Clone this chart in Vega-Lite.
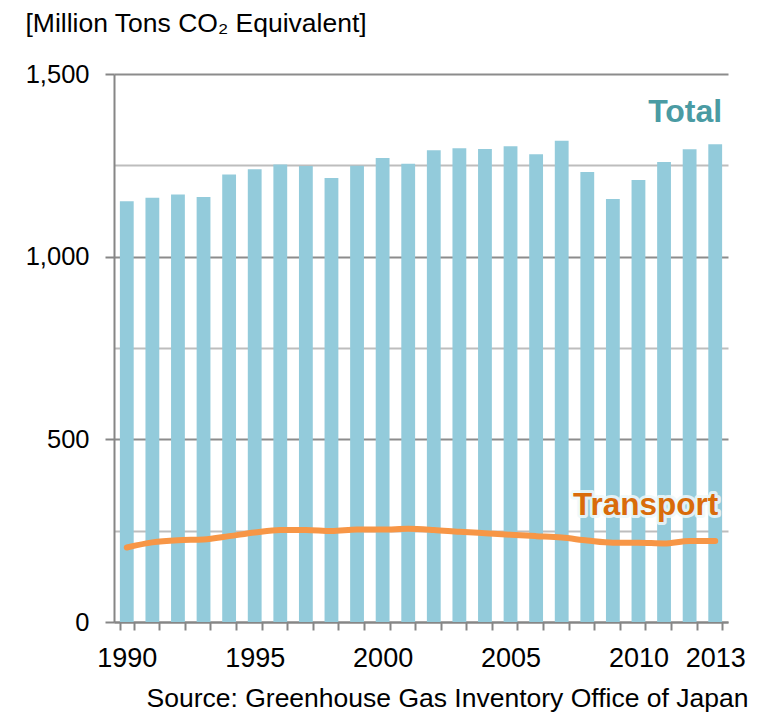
{
  "$schema": "https://vega.github.io/schema/vega-lite/v6.json",
  "autosize": "none",
  "width": 614,
  "height": 548,
  "padding": {"left": 114, "top": 74, "right": 39, "bottom": 91},
  "background": "white",
  "config": {
    "font": "Liberation Sans",
    "view": {"stroke": null}
  },
  "data": {
    "values": [
      {"year": 1990, "total": 1152, "transport": 204},
      {"year": 1991, "total": 1161, "transport": 218},
      {"year": 1992, "total": 1170, "transport": 224},
      {"year": 1993, "total": 1163, "transport": 226},
      {"year": 1994, "total": 1225, "transport": 235},
      {"year": 1995, "total": 1239, "transport": 245},
      {"year": 1996, "total": 1252, "transport": 252},
      {"year": 1997, "total": 1248, "transport": 252},
      {"year": 1998, "total": 1215, "transport": 249},
      {"year": 1999, "total": 1249, "transport": 253},
      {"year": 2000, "total": 1270, "transport": 253},
      {"year": 2001, "total": 1254, "transport": 255},
      {"year": 2002, "total": 1291, "transport": 252},
      {"year": 2003, "total": 1297, "transport": 247},
      {"year": 2004, "total": 1295, "transport": 243},
      {"year": 2005, "total": 1302, "transport": 239},
      {"year": 2006, "total": 1280, "transport": 235},
      {"year": 2007, "total": 1317, "transport": 231},
      {"year": 2008, "total": 1232, "transport": 223},
      {"year": 2009, "total": 1158, "transport": 217},
      {"year": 2010, "total": 1210, "transport": 217},
      {"year": 2011, "total": 1259, "transport": 215},
      {"year": 2012, "total": 1294, "transport": 222},
      {"year": 2013, "total": 1308, "transport": 222}
    ]
  },
  "encoding": {
    "x": {
      "field": "year",
      "type": "ordinal",
      "scale": {"paddingInner": 0.46, "paddingOuter": 0.23},
      "axis": {
        "title": "Source: Greenhouse Gas Inventory Office of Japan",
        "titleFont": "Liberation Sans",
        "titleFontSize": 26.5,
        "titleFontWeight": "normal",
        "titleColor": "#000000",
        "titleAlign": "right",
        "titleBaseline": "alphabetic",
        "titleX": 634,
        "titleY": 84,
        "labelAngle": 0,
        "labelFontSize": 27,
        "labelColor": "#000000",
        "labelPadding": 15,
        "labelExpr": "indexof([1990,1995,2000,2005,2010,2013], datum.value) >= 0 ? datum.label : ''",
        "tickBand": "extent",
        "tickSize": 8,
        "tickWidth": 2,
        "tickColor": "#868686",
        "domainColor": "#868686",
        "domainWidth": 2,
        "grid": false
      }
    }
  },
  "layer": [
    {
      "mark": {"type": "bar", "color": "#93CBDB"},
      "encoding": {
        "y": {
          "field": "total",
          "type": "quantitative",
          "scale": {"domain": [0, 1500], "nice": false},
          "axis": {
            "title": "[Million Tons CO₂ Equivalent]",
            "titleAngle": 0,
            "titleAlign": "left",
            "titleBaseline": "alphabetic",
            "titleX": -89,
            "titleY": -43,
            "titleFontSize": 26.5,
            "titleFontWeight": "normal",
            "titleColor": "#000000",
            "values": [0, 250, 500, 750, 1000, 1250, 1500],
            "labelExpr": "datum.value % 500 === 0 ? format(datum.value, ',') : ''",
            "labelFontSize": 25.5,
            "labelColor": "#000000",
            "labelPadding": 16,
            "tickSize": 9,
            "tickWidth": 2,
            "tickColor": {"condition": {"test": "datum.value % 500 === 0", "value": "#868686"}, "value": "transparent"},
            "domainColor": "#868686",
            "domainWidth": 2,
            "grid": true,
            "gridWidth": 2,
            "gridColor": {"condition": {"test": "datum.value % 500 === 0", "value": "#8c8c8c"}, "value": "#bdbdbd"}
          }
        }
      }
    },
    {
      "mark": {"type": "line", "color": "#F79646", "strokeWidth": 6, "interpolate": "monotone", "strokeCap": "round"},
      "encoding": {
        "y": {"field": "transport", "type": "quantitative"}
      }
    },
    {
      "data": {"values": [{"label": "Total"}]},
      "mark": {"type": "text", "align": "right", "baseline": "alphabetic", "dx": 7, "fontSize": 32, "fontWeight": "bold", "color": "#4A9BA3"},
      "encoding": {
        "x": {"datum": 2013},
        "y": {"datum": 1369},
        "text": {"field": "label"}
      }
    },
    {
      "data": {"values": [{"label": "Transport"}]},
      "mark": {"type": "text", "align": "right", "baseline": "alphabetic", "dx": 3, "fontSize": 31.5, "fontWeight": "bold", "color": "#ffffff", "stroke": "#eef8fa", "strokeWidth": 6, "strokeJoin": "round", "opacity": 0.85},
      "encoding": {
        "x": {"datum": 2013},
        "y": {"datum": 293},
        "text": {"field": "label"}
      }
    },
    {
      "data": {"values": [{"label": "Transport"}]},
      "mark": {"type": "text", "align": "right", "baseline": "alphabetic", "dx": 3, "fontSize": 31.5, "fontWeight": "bold", "color": "#D96B0A"},
      "encoding": {
        "x": {"datum": 2013},
        "y": {"datum": 293},
        "text": {"field": "label"}
      }
    }
  ]
}
